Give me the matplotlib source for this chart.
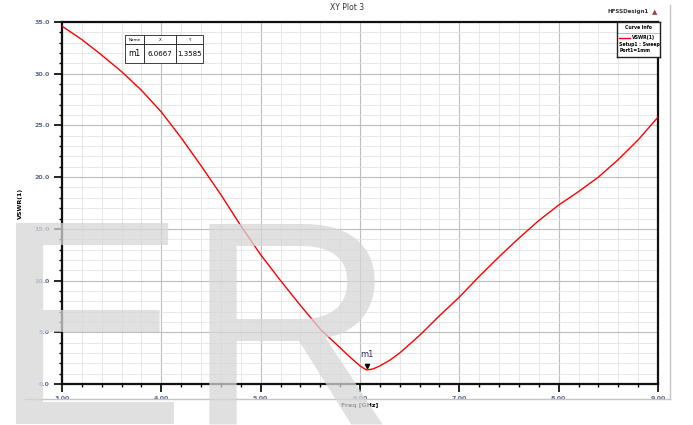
import matplotlib.pyplot as plt
import numpy as np
from matplotlib.ticker import MultipleLocator, FormatStrFormatter
from matplotlib.lines import Line2D

# Dados (VSWR x frequência)
freq = [3.0, 3.2, 3.4, 3.6, 3.8, 4.0, 4.2, 4.4, 4.6, 4.8, 5.0, 5.2, 5.4, 5.6,
        5.8, 5.9, 6.0, 6.0667, 6.13, 6.2, 6.3, 6.4, 6.6, 6.8, 7.0, 7.2, 7.4,
        7.6, 7.8, 8.0, 8.2, 8.4, 8.6, 8.8, 9.0]
vswr = [34.6, 33.3, 31.8, 30.2, 28.4, 26.3, 23.8, 21.1, 18.3, 15.3, 12.5, 10.0,
        7.6, 5.3, 3.5, 2.6, 1.75, 1.3585, 1.45, 1.75, 2.3, 3.0, 4.7, 6.6, 8.4,
        10.4, 12.3, 14.1, 15.8, 17.3, 18.6, 20.0, 21.7, 23.6, 25.8]

marker_name = 'm1'
marker_x = 6.0667
marker_y = 1.3585

fig = plt.figure(figsize=(6.93, 4.25), dpi=100)
ax = fig.add_axes([62 / 693, 41 / 425, 596 / 693, 362 / 425])

ax.plot(freq, vswr, color='#ff0000', linewidth=1.0, zorder=3)
ax.set_xlim(3.0, 9.0)
ax.set_ylim(0.0, 35.0)

ax.xaxis.set_major_locator(MultipleLocator(1.0))
ax.xaxis.set_minor_locator(MultipleLocator(0.2))
ax.yaxis.set_major_locator(MultipleLocator(5.0))
ax.yaxis.set_minor_locator(MultipleLocator(1.0))
ax.xaxis.set_major_formatter(FormatStrFormatter('%.2f'))
ax.yaxis.set_major_formatter(FormatStrFormatter('%.1f'))

ax.grid(which='major', color='#bdbdbd', linewidth=0.8)
ax.grid(which='minor', color='#e4e4e4', linewidth=0.6)
ax.set_axisbelow(True)

ax.tick_params(which='major', direction='out', length=6, width=1.2,
               labelsize=4.5, colors='black', pad=3)
ax.tick_params(which='minor', direction='out', length=2.5, width=1.0)
for lab in ax.get_xticklabels() + ax.get_yticklabels():
    lab.set_color('#5a6a8a')
    lab.set_fontweight('bold')
for s in ax.spines.values():
    s.set_linewidth(1.6)
    s.set_color('#111111')

ax.set_xlabel('Freq [GHz]', fontsize=4.5, fontweight='bold', labelpad=1)
ax.set_ylabel('VSWR(1)', fontsize=4.5, fontweight='bold', labelpad=8)

# Marcador m1
ax.plot([marker_x], [marker_y + 0.4], marker='v', markersize=3,
        color='black', zorder=4)
ax.annotate(marker_name, (marker_x, marker_y), xytext=(0, 9),
            textcoords='offset points', ha='center', fontsize=6,
            color='#303060', zorder=5)

# Tabela do marcador
tab = ax.table(cellText=[[marker_name, '6.0667', '1.3585']],
               colLabels=['Name', 'X', 'Y'],
               colWidths=[0.24, 0.41, 0.35],
               bbox=[0.106, 0.887, 0.131, 0.077], cellLoc='center')
tab.auto_set_font_size(False)
for (r, c), cell in tab.get_celld().items():
    cell.set_linewidth(0.6)
    cell.set_edgecolor('#222222')
    cell.set_facecolor('white')
    if r == 0:
        cell.set_height(0.33)
        cell.get_text().set_fontsize(3)
    else:
        cell.set_height(0.67)
        cell.get_text().set_fontsize(5.5 if c == 0 else 5)
tab.set_zorder(6)

# Legenda (Curve Info)
lax = fig.add_axes([617 / 693, (425 - 57) / 425, 43 / 693, 35 / 425])
lax.set_xlim(0, 1)
lax.set_ylim(0, 1)
lax.set_xticks([])
lax.set_yticks([])
for s in lax.spines.values():
    s.set_linewidth(1.0)
    s.set_color('#222222')
lax.text(0.5, 0.84, 'Curve Info', ha='center', va='center', fontsize=3.3,
         fontweight='bold')
lax.axhline(0.7, color='#888888', linewidth=0.4)
lax.add_line(Line2D([0.05, 0.3], [0.55, 0.55], color='#ff0000', linewidth=1.0))
lax.text(0.35, 0.55, 'VSWR(1)', va='center', fontsize=3.3, fontweight='bold')
lax.text(0.05, 0.36, 'Setup1 : Sweep', va='center', fontsize=3.3,
         fontweight='bold')
lax.text(0.05, 0.18, 'Port1=1mm', va='center', fontsize=3.3,
         fontweight='bold')

# Títulos e moldura da janela
fig.text(347 / 693, 1 - 8 / 425, 'XY Plot 3', ha='center', va='center',
         fontsize=5.5, color='#333333')
fig.text(628 / 693, 1 - 12 / 425, 'HFSSDesign1', ha='center', va='center',
         fontsize=4, fontweight='bold', color='#333333')
fig.text(655 / 693, 1 - 12 / 425, '\u25b2', ha='center', va='center',
         fontsize=5, color='#a04040')
fig.add_artist(Line2D([670 / 693, 670 / 693], [1 - 5 / 425, 1 - 399 / 425],
                      color='#c4c4c4', linewidth=1.0))
fig.add_artist(Line2D([25 / 693, 670 / 693], [1 - 399 / 425, 1 - 399 / 425],
                      color='#c4c4c4', linewidth=1.0))

# Marca d'água
fig.text(-9 / 693, 1 / 425, 'ER', ha='left', va='baseline', fontsize=210,
         family='Liberation Sans', color='#d6d6d6', alpha=0.75, zorder=10)

fig.savefig('out.png', dpi=100)
